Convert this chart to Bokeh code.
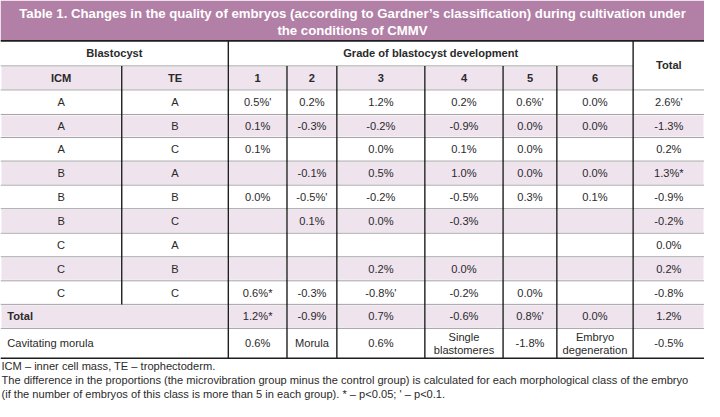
from bokeh.plotting import figure
from bokeh.models import ColumnDataSource
from bokeh.core.properties import value
from bokeh.embed import file_html
from bokeh.resources import INLINE

# ---------------- data ----------------
title_lines = ["Table 1. Changes in the quality of embryos (according to Gardner\u2019s classification) during cultivation under",
               "the conditions of CMMV"]
icm = ["A", "A", "A", "B", "B", "B", "C", "C", "C"]
te = ["A", "B", "C", "A", "B", "C", "A", "B", "C"]
grades = ["1", "2", "3", "4", "5", "6"]

g1 = [0.5, 0.1, 0.1, None, 0.0, None, None, None, 0.6]
g2 = [0.2, -0.3, None, -0.1, -0.5, 0.1, None, None, -0.3]
g3 = [1.2, -0.2, 0.0, 0.5, -0.2, 0.0, None, 0.2, -0.8]
g4 = [0.2, -0.9, 0.1, 1.0, -0.5, -0.3, None, 0.0, -0.2]
g5 = [0.6, 0.0, 0.0, 0.0, 0.3, None, None, None, 0.0]
g6 = [0.0, 0.0, None, 0.0, 0.1, None, None, None, None]
row_total = [2.6, -1.3, 0.2, 1.3, -0.9, -0.2, 0.0, 0.2, -0.8]

# significance marks: "*" p<0.05, "'" p<0.1
s1 = ["'", "", "", "", "", "", "", "", "*"]
s2 = ["", "", "", "", "'", "", "", "", ""]
s3 = ["", "", "", "", "", "", "", "", "'"]
s4 = ["", "", "", "", "", "", "", "", ""]
s5 = ["'", "", "", "", "", "", "", "", ""]
s6 = ["", "", "", "", "", "", "", "", ""]
s_row_total = ["'", "", "", "*", "", "", "", "", ""]

grade_total = [1.2, -0.9, 0.7, -0.6, 0.8, 0.0]
s_grade_total = ["*", "", "", "", "'", ""]
overall_total = 1.2

morula_label = "Cavitating morula"
morula_row = ["0.6%", "Morula", "0.6%", "Single\nblastomeres", "-1.8%", "Embryo\ndegeneration", "-0.5%"]

notes = ["ICM \u2013 inner cell mass, TE \u2013 trophectoderm.",
         "The difference in the proportions (the microvibration group minus the control group) is calculated for each morphological class of the embryo",
         "(if the number of embryos of this class is more than 5 in each group). * \u2013 p<0.05; ' \u2013 p<0.1."]

# ---------------- layout ----------------
W, H = 720, 417
col_x = [0, 124, 233, 293, 344, 434, 514, 569, 647, 720]
title_bottom = 42
h1_bottom = 68
h2_bottom = 93
row_y = [93, 118.5, 142.5, 167, 192, 216.5, 242, 266.5, 291.5, 316, 341, 372]

PURPLE = "#b27fa6"
LAV = "#efe3ee"
TXT = "#2a2a2a"
DARK = "#1e1e1e"
GRAY = "#a3a3a3"
FONT = value("Liberation Sans")
FS = "11.1px"

p = figure(width=704, height=401, x_range=(0, W), y_range=(H, 0),
           output_backend="svg", toolbar_location=None, min_border=0)
p.axis.visible = False
p.grid.visible = False
p.outline_line_color = None
p.background_fill_color = "white"
p.border_fill_color = "white"

# backgrounds
L, R, T, B, C = [], [], [], [], []
L.append(0); R.append(W); T.append(0); B.append(title_bottom); C.append(PURPLE)
for i in range(len(col_x) - 2):
    L.append(col_x[i] + 1); R.append(col_x[i + 1] - 1); T.append(h1_bottom + 1); B.append(h2_bottom - 1); C.append(LAV)
n_rows = len(row_y) - 1
for r in range(n_rows):
    if r % 2 == 1:
        edges = col_x if r < 9 else [0] + col_x[2:]
        for i in range(len(edges) - 1):
            L.append(edges[i] + 1); R.append(edges[i + 1] - 1)
            T.append(row_y[r] + 1); B.append(row_y[r + 1] - 1); C.append(LAV)
p.quad(left=L, right=R, top=T, bottom=B, fill_color=C, line_color=None)

def seg(x0, y0, x1, y1, color, w):
    p.segment(x0=[x0], y0=[y0], x1=[x1], y1=[y1], line_color=color, line_width=w)

for y in row_y[1:-1]:
    seg(0, y, W, y, GRAY, 1)
seg(0, h1_bottom, col_x[8], h1_bottom, GRAY, 1)
seg(0, h2_bottom, W, h2_bottom, GRAY, 1)
seg(0, title_bottom, W, title_bottom, DARK, 1.6)
seg(0, row_y[-1], W, row_y[-1], DARK, 1.4)
seg(col_x[1], h1_bottom, col_x[1], row_y[9], DARK, 1.4)
seg(col_x[2], title_bottom, col_x[2], row_y[-1], DARK, 1.4)
seg(col_x[8], title_bottom, col_x[8], row_y[-1], DARK, 1.4)
for i in range(3, 8):
    seg(col_x[i], h1_bottom, col_x[i], row_y[-1], DARK, 1.4)

def txt(xs, ys, ts, bold=False, align="center", color=TXT, size=FS, italic=False):
    style = "bold" if bold else ("italic" if italic else "normal")
    p.text(x=xs, y=ys, text=ts, text_align=align, text_baseline="middle",
           text_font=FONT, text_font_size=size, text_color=color, text_font_style=style)

txt([W / 2, W / 2], [13.5, 31], title_lines, bold=True, color="white", size="13.2px")

txt([col_x[2] / 2, (col_x[2] + col_x[8]) / 2, (col_x[8] + W) / 2],
    [(title_bottom + h1_bottom) / 2, (title_bottom + h1_bottom) / 2, (title_bottom + h2_bottom) / 2],
    ["Blastocyst", "Grade of blastocyst development", "Total"], bold=True)
cx = [(col_x[i] + col_x[i + 1]) / 2 for i in range(len(col_x) - 1)]
txt(cx[:8], [(h1_bottom + h2_bottom) / 2] * 8, ["ICM", "TE"] + grades, bold=True)

def fmt(v, s):
    if v is None:
        return ""
    return f"{v:.1f}%{s}"

cols = [(g1, s1), (g2, s2), (g3, s3), (g4, s4), (g5, s5), (g6, s6), (row_total, s_row_total)]
xs, ys, ts = [], [], []
for r in range(9):
    yc = (row_y[r] + row_y[r + 1]) / 2
    xs += [cx[0], cx[1]]; ys += [yc, yc]; ts += [icm[r], te[r]]
    for j, (vals, sg) in enumerate(cols):
        t = fmt(vals[r], sg[r])
        if t:
            xs.append(cx[2 + j]); ys.append(yc); ts.append(t)
yc = (row_y[9] + row_y[10]) / 2
for j in range(6):
    xs.append(cx[2 + j]); ys.append(yc); ts.append(fmt(grade_total[j], s_grade_total[j]))
xs.append(cx[8]); ys.append(yc); ts.append(fmt(overall_total, ""))
yc = (row_y[10] + row_y[11]) / 2
for j, t in enumerate(morula_row):
    parts = t.split("\n")
    if len(parts) == 1:
        xs.append(cx[2 + j]); ys.append(yc); ts.append(t)
    else:
        xs += [cx[2 + j], cx[2 + j]]; ys += [yc - 7, yc + 7]; ts += parts
txt(xs, ys, ts)

txt([7], [(row_y[9] + row_y[10]) / 2], ["Total"], bold=True, align="left")
txt([7], [(row_y[10] + row_y[11]) / 2], [morula_label], align="left")

txt([1, 1, 1], [380, 395, 409.5], notes, align="left")

open("out.html", "w").write(file_html(p, INLINE))
